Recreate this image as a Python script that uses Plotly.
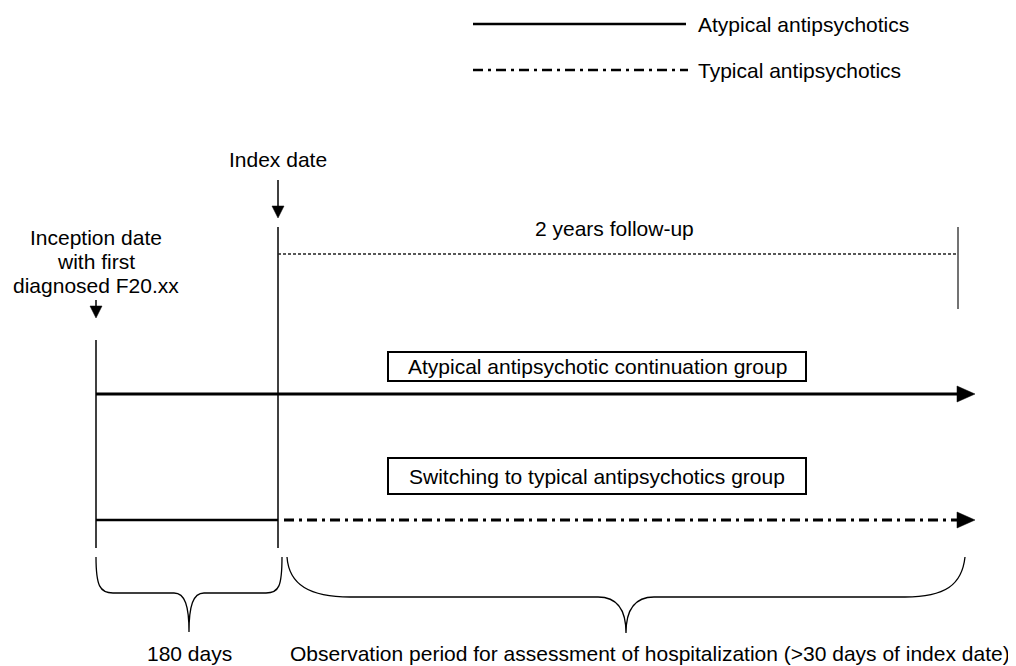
import plotly.graph_objects as go

# ---- content (text) ----
legend_labels = ["Atypical antipsychotics", "Typical antipsychotics"]
inception_lines = ["Inception date", "with first", "diagnosed F20.xx"]
index_label = "Index date"
followup_label = "2 years follow-up"
group_labels = ["Atypical antipsychotic continuation group",
                "Switching to typical antipsychotics group"]
period_labels = ["180 days",
                 "Observation period for assessment of hospitalization (>30 days of index date)"]

# ---- schematic geometry (page-pixel canvas; page body has an 8px margin) ----
OFF = 8
W, H = 1016, 666
X_INC, X_IDX, X_END, X_TIP = 96, 278, 958, 975
Y_ROW = [394, 520]
FONT = dict(family="Liberation Sans, Arial, sans-serif", size=21, color="#000")
DASHDOT = "10px,5px,3px,5px"

fig = go.Figure()
shapes = []
ann = []

def line(x0, y0, x1, y1, width=1.5, dash="solid", color="#000"):
    shapes.append(dict(type="line", xref="x", yref="y", x0=x0, y0=y0, x1=x1, y1=y1,
                       line=dict(color=color, width=width, dash=dash)))

def path(d, fill=None, width=1.3):
    s = dict(type="path", xref="x", yref="y", path=d, line=dict(color="#000", width=width))
    if fill:
        s["fillcolor"] = fill
        s["line"] = dict(color=fill, width=0.5)
    shapes.append(s)

def arrowhead_right(xt, y, L=18, h=8):
    path(f"M {xt},{y} L {xt-L},{y-h} L {xt-L},{y+h} Z", fill="#000")

def arrowhead_down(x, yt, L=12, h=6):
    path(f"M {x},{yt} L {x-h},{yt-L} L {x+h},{yt-L} Z", fill="#000")

def text(x, y, s, anchor="center"):
    ann.append(dict(x=x, y=y, xref="x", yref="y", text=s, showarrow=False,
                    xanchor=anchor, yanchor="middle", font=FONT))

# legend
line(473, 24, 686, 24, width=2.5)
line(473, 70, 688, 70, width=2.5, dash=DASHDOT)
text(696, 24, legend_labels[0], anchor="left")
text(696, 70, legend_labels[1], anchor="left")

# index date
text(X_IDX, 159, index_label)
line(X_IDX, 180, X_IDX, 206, width=1.5)
arrowhead_down(X_IDX, 218)
line(X_IDX, 227, X_IDX, 548, width=1.5)

# follow-up
text(614, 228, followup_label)
line(X_IDX, 254, X_END, 254, width=1.4, dash="3px,2px", color="#222")
line(X_END, 227, X_END, 309, width=1.5, color="#444")

# inception
for yy, s in zip([237, 261, 285], inception_lines):
    text(96, yy, s)
line(X_INC, 300, X_INC, 306, width=1.5)
arrowhead_down(X_INC, 318)
line(X_INC, 340, X_INC, 548, width=1.5)

# group boxes
for (y0, y1), lab in zip([(352, 381), (458, 494)], group_labels):
    shapes.append(dict(type="rect", xref="x", yref="y", x0=388, x1=806, y0=y0, y1=y1,
                       line=dict(color="#000", width=2), fillcolor="rgba(0,0,0,0)"))
    text(597, (y0 + y1) / 2, lab)

# arrows
line(X_INC, Y_ROW[0], X_TIP - 16, Y_ROW[0], width=3)
arrowhead_right(X_TIP, Y_ROW[0])
line(X_INC, Y_ROW[1], X_IDX, Y_ROW[1], width=2.5)
line(X_IDX + 6, Y_ROW[1], X_TIP - 16, Y_ROW[1], width=3, dash=DASHDOT)
arrowhead_right(X_TIP, Y_ROW[1])

# braces
path("M 96,557 C 96,586 100,593 113,593 L 174,593 C 185,593 189,606 189,632 "
     "C 189,606 193,593 204,593 L 266,593 C 279,593 282,586 282,557")
path("M 287,557 C 289,585 310,597 350,597 L 598,597 C 617,597 626,610 626,633 "
     "C 626,610 635,597 654,597 L 905,597 C 945,597 962,585 965,557")

text(189, 653, period_labels[0])
text(650, 653, period_labels[1])

fig.update_layout(
    width=W - OFF, height=H - OFF, margin=dict(l=0, r=0, t=0, b=0),
    paper_bgcolor="white", plot_bgcolor="white",
    xaxis=dict(range=[OFF, W], visible=False, fixedrange=True),
    yaxis=dict(range=[H, OFF], visible=False, fixedrange=True),
    shapes=shapes, annotations=ann, showlegend=False,
)
fig.write_html("out.html")
